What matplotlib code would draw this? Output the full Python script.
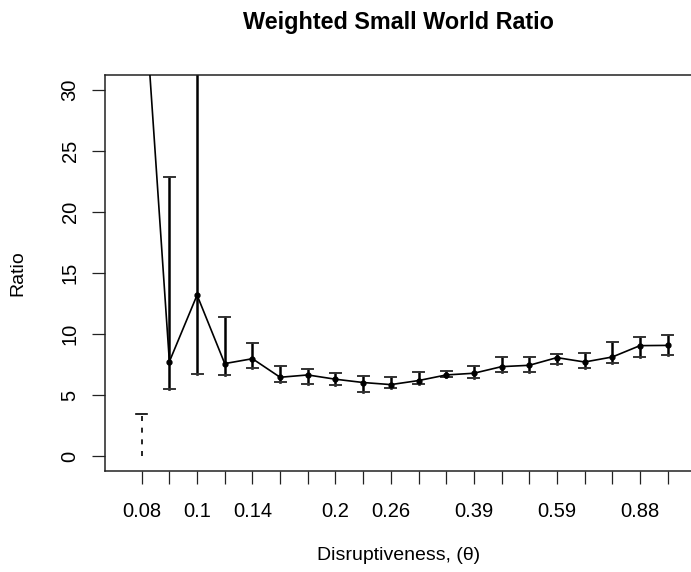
import matplotlib
matplotlib.use("Agg")
import matplotlib.pyplot as plt

plt.rcParams["font.family"] = ["Liberation Sans", "DejaVu Sans"]

# Data
pos = list(range(20))
tick_labels = ["0.08", "", "0.1", "", "0.14", "", "", "0.2", "", "0.26",
               "", "", "0.39", "", "", "0.59", "", "", "0.88", ""]
ratio = [41.1, 7.73, 13.18, 7.57, 7.97, 6.45, 6.64, 6.29, 6.02, 5.85,
         6.18, 6.64, 6.78, 7.32, 7.43, 8.06, 7.70, 8.11, 9.04, 9.06]
err_lo = [0.0, 5.53, 6.75, 6.67, 7.24, 6.10, 5.93, 5.85, 5.28, 5.55,
          5.93, 6.50, 6.42, 6.91, 6.91, 7.57, 7.24, 7.65, 8.14, 8.30]
err_hi = [3.45, 22.83, 36.0, 11.40, 9.28, 7.38, 7.10, 6.83, 6.59, 6.50,
          6.91, 7.00, 7.40, 8.14, 8.14, 8.39, 8.46, 9.31, 9.77, 9.93]

fig = plt.figure(figsize=(6.91, 5.72), dpi=100)
ax = fig.add_axes([105.3 / 691, 101.3 / 572, (692 - 105.3) / 691, 395.7 / 572])

# line with points
ax.plot(pos, ratio, color="black", lw=1.2, zorder=3)
ax.plot(pos, ratio, "o", color="black", ms=3.5, zorder=4)

# error bars
cap = 0.2
for i in pos:
    if i == 0:
        # odd first bar: dashed, only the top cap
        ax.plot([i, i], [err_lo[i], err_hi[i]], color="black", lw=1.2,
                ls=(0, (3, 4)))
        ax.plot([i - cap, i + cap], [err_hi[i], err_hi[i]], color="black", lw=1.2)
        continue
    ax.plot([i, i], [err_lo[i], err_hi[i]], color="black", lw=1.8)
    ax.plot([i - cap, i + cap], [err_lo[i], err_lo[i]], color="#333333", lw=1.4)
    ax.plot([i - cap, i + cap], [err_hi[i], err_hi[i]], color="#333333", lw=1.4)

ax.set_xlim(-1.315, 19.88)
ax.set_ylim(-1.2, 31.2)

ax.set_xticks(pos)
ax.set_xticklabels(tick_labels, fontsize=14.5)
ax.set_yticks([0, 5, 10, 15, 20, 25, 30])
ax.set_yticklabels(["0", "5", "10", "15", "20", "25", "30"], fontsize=14.5,
                   rotation=90, va="center")
ax.tick_params(axis="both", length=9.5, width=0.9, color="#222222")
ax.tick_params(axis="x", pad=13)
ax.tick_params(axis="y", pad=9)

for side in ["left", "bottom", "top", "right"]:
    ax.spines[side].set_linewidth(1.1)
    ax.spines[side].set_color("#222222")

fig.text(398.7 / 691, 1 - 23 / 572, "Weighted Small World Ratio",
         ha="center", va="center", fontsize=16.8, fontweight="bold")
fig.text(398.7 / 691, 1 - 556 / 572, "Disruptiveness, (\u03b8)",
         ha="center", va="center", fontsize=14)
fig.text(18 / 691, 1 - 273 / 572, "Ratio", ha="center", va="center",
         fontsize=14, rotation=90)

fig.savefig("out.png", dpi=100)
